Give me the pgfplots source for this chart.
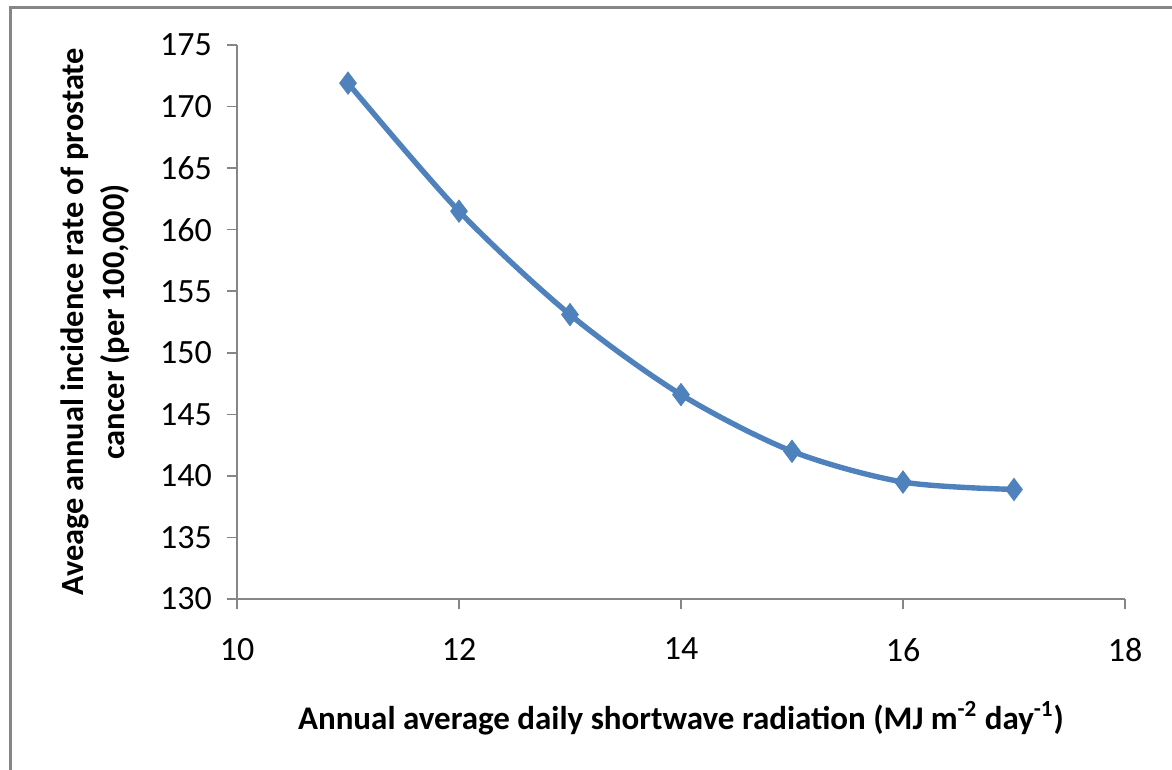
\documentclass[border=0pt]{standalone}
\usepackage{fontspec}
\setmainfont{Carlito}
\usepackage{pgfplots}
\pgfplotsset{compat=1.18}
\definecolor{exblue}{HTML}{4F81BD}
\definecolor{axgray}{HTML}{868686}
\begin{document}
\begin{tikzpicture}[x=0.5pt,y=0.5pt]
\useasboundingbox (0,0) rectangle (1172,770);
\draw[axgray,line width=1.5pt] (10,0) -- (10,762) -- (1172,762);
\begin{axis}[
  at={(118.5pt,85.5pt)}, anchor=origin,
  width=444pt, height=277pt, scale only axis,
  xmin=10, xmax=18, ymin=130, ymax=175,
  xtick={10,12,...,18}, ytick={130,135,...,175},
  axis x line*=bottom, axis y line*=left,
  axis line style={axgray, line width=0.8pt, -},
  tick style={axgray, line width=0.8pt},
  tick align=outside, major tick length=5pt,
  every tick label/.append style={font=\fontsize{17}{19}\selectfont, text=black},
  /pgf/number format/assume math mode=true,
  xticklabel style={yshift=-11pt},
  yticklabel style={xshift=-4pt},
  xlabel={\textbf{Annual average daily shortwave radiation (MJ m\textsuperscript{-2} day\textsuperscript{-1})}},
  xlabel style={font=\fontsize{16.5}{19}\selectfont, at={(axis description cs:0.5,-0.215)}, anchor=center},
  ylabel={\textbf{Aveage annual incidence rate of prostate}\\\textbf{cancer (per 100,000)}},
  ylabel style={font=\fontsize{16.2}{20.5}\selectfont, align=center, at={(axis description cs:-0.16,0.5)}, anchor=center, rotate=0},
  clip=false,
]
\addplot[exblue, line width=2.7pt, smooth, mark=diamond*, mark size=5.5pt, mark options={fill=exblue, draw=exblue, line width=0.5pt}]
  coordinates {(11,171.9) (12,161.5) (13,153.1) (14,146.6) (15,142.0) (16,139.5) (17,138.9)};
\end{axis}
\end{tikzpicture}
\end{document}
